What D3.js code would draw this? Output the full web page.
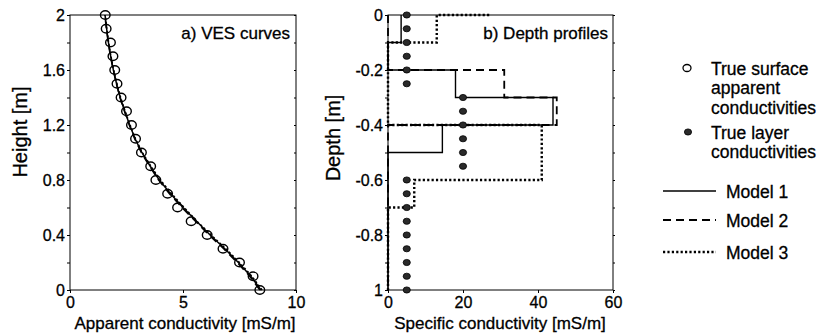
<!DOCTYPE html>
<html>
<head>
<meta charset="utf-8">
<script src="https://cdn.jsdelivr.net/npm/d3@7"></script>
<style>
  body { margin: 0; background: #fff; }
  svg { font-family: "Liberation Sans", Arial, sans-serif; }
  text { fill: #000; stroke: #000; stroke-width: 0.3px; }
</style>
</head>
<body>
<svg id="fig" width="833" height="333"></svg>
<script>
// ---- data: panel a (VES curves) ----
const vesHeights = [0, 0.1, 0.2, 0.3, 0.4, 0.5, 0.6, 0.7, 0.8, 0.9, 1.0, 1.1, 1.2, 1.3, 1.4, 1.5, 1.6, 1.7, 1.8, 1.9, 2.0];
const vesTrue   = [8.4, 8.1, 7.5, 6.77, 6.07, 5.36, 4.76, 4.32, 3.8, 3.57, 3.16, 2.9, 2.72, 2.5, 2.26, 2.08, 1.98, 1.9, 1.79, 1.6, 1.56];
const vesModel1 = [8.45, 8.0, 7.45, 6.85, 6.2, 5.6, 5.0, 4.45, 3.95, 3.55, 3.18, 2.88, 2.64, 2.42, 2.22, 2.06, 1.92, 1.8, 1.7, 1.62, 1.55];
const vesModel2 = [8.4, 7.95, 7.4, 6.8, 6.15, 5.55, 4.95, 4.4, 3.92, 3.52, 3.15, 2.86, 2.62, 2.41, 2.21, 2.05, 1.91, 1.79, 1.69, 1.61, 1.54];
const vesModel3 = [8.5, 8.05, 7.5, 6.9, 6.25, 5.62, 5.05, 4.5, 4.0, 3.58, 3.2, 2.9, 2.66, 2.44, 2.24, 2.08, 1.93, 1.81, 1.71, 1.63, 1.56];

// ---- data: panel b (depth profiles) ----
const layerDepths = [0, -0.05, -0.1, -0.15, -0.2, -0.25, -0.3, -0.35, -0.4, -0.45, -0.5, -0.55,
                     -0.6, -0.65, -0.7, -0.75, -0.8, -0.85, -0.9, -0.95, -1.0];
const layerTrue   = [5, 5, 5, 5, 5, 5, 20, 20, 20, 20, 20, 20, 5, 5, 5, 5, 5, 5, 5, 5, 5];

// step profiles: layer boundaries (top, bottom) and conductivity
const model1Tops = [0, -0.1, -0.2, -0.3, -0.4, -0.5];
const model1Bots = [-0.1, -0.2, -0.3, -0.4, -0.5, -1.0];
const model1Vals = [3.5, 0, 18, 44, 14.5, 0];

const model2Tops = [0, -0.2, -0.3, -0.4];
const model2Bots = [-0.2, -0.3, -0.4, -1.0];
const model2Vals = [0, 31, 45, 0];

const model3Start = 27;
const model3Tops = [0, -0.1, -0.4, -0.6, -0.7];
const model3Bots = [-0.1, -0.4, -0.6, -0.7, -1.0];
const model3Vals = [13, 0, 41, 7, 0];

// ---- tick labels ----
const aTicksX = [0, 5, 10];
const aTicksY = [0, 0.2, 0.4, 0.6, 0.8, 1.0, 1.2, 1.4, 1.6, 1.8, 2.0];
const aLabelsY = {"0": "0", "0.4": "0.4", "0.8": "0.8", "1.2": "1.2", "1.6": "1.6", "2": "2"};
const bTicksX = [0, 20, 40, 60];
const bTicksY = [0, -0.1, -0.2, -0.3, -0.4, -0.5, -0.6, -0.7, -0.8, -0.9, -1.0];
const bLabelsY = {"0": "0", "-0.2": "-0.2", "-0.4": "-0.4", "-0.6": "-0.6", "-0.8": "-0.8", "-1": "1"};

const svg = d3.select("#fig");
const plotTop = 15, plotBottom = 290;

const dashes = {solid: null, dashed: "8,5", dotted: "2.2,2.2"};

function frame(g, x0, x1) {
  g.append("rect")
    .attr("x", x0).attr("y", plotTop)
    .attr("width", x1 - x0).attr("height", plotBottom - plotTop)
    .attr("fill", "none").attr("stroke", "#000").attr("stroke-width", 1);
}

function styleAxis(g) {
  g.selectAll(".domain").remove();
  g.selectAll("text").attr("font-size", 16).attr("fill", "#000");
  g.selectAll("line").attr("stroke", "#000");
}

// ================= panel a =================
const ax = d3.scaleLinear().domain([0, 10]).range([70, 296]);
const ay = d3.scaleLinear().domain([0, 2]).range([plotBottom, plotTop]);
const ga = svg.append("g");
frame(ga, 70, 296);

ga.append("g").attr("transform", `translate(0,${plotBottom})`)
  .call(d3.axisBottom(ax).tickValues(aTicksX).tickSize(3).tickPadding(4).tickFormat(d3.format("d")))
  .call(styleAxis);
ga.append("g").attr("transform", "translate(70,0)")
  .call(d3.axisLeft(ay).tickValues(aTicksY).tickSize(3).tickPadding(2)
    .tickFormat(d => aLabelsY[String(+d.toFixed(1))] || ""))
  .call(styleAxis);
ga.append("g").attr("transform", "translate(296,0)")
  .call(d3.axisLeft(ay).tickValues(aTicksY).tickSize(2).tickFormat(""))
  .call(styleAxis);

const aLine = d3.line().x(d => ax(d[0])).y(d => ay(d[1]));
[[vesModel1, "solid"], [vesModel2, "dashed"], [vesModel3, "dotted"]].forEach(([vals, st]) => {
  ga.append("path")
    .attr("d", aLine(vals.map((v, i) => [v, vesHeights[i]])))
    .attr("fill", "none").attr("stroke", "#000").attr("stroke-width", 1.5)
    .attr("stroke-dasharray", dashes[st]);
});
ga.selectAll("ellipse.ves").data(vesTrue).enter().append("ellipse")
  .attr("cx", d => ax(d)).attr("cy", (d, i) => ay(vesHeights[i]))
  .attr("rx", 4.8).attr("ry", 4.2)
  .attr("fill", "none").attr("stroke", "#000").attr("stroke-width", 1.4);

ga.append("text").attr("x", 290).attr("y", 39).attr("text-anchor", "end")
  .attr("font-size", 17).text("a) VES curves");
ga.append("text").attr("x", 185).attr("y", 329).attr("text-anchor", "middle")
  .attr("font-size", 17).text("Apparent conductivity [mS/m]");
ga.append("text").attr("transform", "translate(27,132) rotate(-90)").attr("text-anchor", "middle")
  .attr("font-size", 20).text("Height [m]");

// ================= panel b =================
const bx = d3.scaleLinear().domain([0, 60]).range([388, 613]);
const by = d3.scaleLinear().domain([-1, 0]).range([plotBottom, plotTop]);
const gb = svg.append("g");
frame(gb, 388, 613);

gb.append("g").attr("transform", `translate(0,${plotBottom})`)
  .call(d3.axisBottom(bx).tickValues(bTicksX).tickSize(3).tickPadding(4).tickFormat(d3.format("d")))
  .call(styleAxis);
gb.append("g").attr("transform", "translate(388,0)")
  .call(d3.axisLeft(by).tickValues(bTicksY).tickSize(3).tickPadding(2)
    .tickFormat(d => bLabelsY[String(+d.toFixed(1))] || ""))
  .call(styleAxis);
gb.append("g").attr("transform", "translate(613,0)")
  .call(d3.axisRight(by).tickValues(bTicksY).tickSize(2).tickFormat(""))
  .call(styleAxis);

function stepPoints(tops, bots, vals, start) {
  const pts = [];
  if (start !== undefined) pts.push([start, tops[0]]);
  vals.forEach((v, i) => { pts.push([v, tops[i]]); pts.push([v, bots[i]]); });
  return pts;
}
const bLine = d3.line().x(d => bx(d[0])).y(d => by(d[1]));
[[stepPoints(model1Tops, model1Bots, model1Vals), "solid", 1.4],
 [stepPoints(model2Tops, model2Bots, model2Vals), "dashed", 1.8],
 [stepPoints(model3Tops, model3Bots, model3Vals, model3Start), "dotted", 2.4]].forEach(([pts, st, w]) => {
  gb.append("path").attr("d", bLine(pts))
    .attr("fill", "none").attr("stroke", "#000").attr("stroke-width", w)
    .attr("stroke-dasharray", dashes[st]);
});

gb.selectAll("ellipse.layer").data(layerTrue).enter().append("ellipse")
  .attr("cx", d => bx(d)).attr("cy", (d, i) => by(layerDepths[i]))
  .attr("rx", 3.6).attr("ry", 3.1)
  .attr("fill", "#2a2a2a").attr("stroke", "#000").attr("stroke-width", 0.8);

gb.append("text").attr("x", 608).attr("y", 39).attr("text-anchor", "end")
  .attr("font-size", 17).text("b) Depth profiles");
gb.append("text").attr("x", 500).attr("y", 329).attr("text-anchor", "middle")
  .attr("font-size", 17).text("Specific conductivity [mS/m]");
gb.append("text").attr("transform", "translate(340,138) rotate(-90)").attr("text-anchor", "middle")
  .attr("font-size", 20).text("Depth [m]");

// ================= legend =================
const lg = svg.append("g").attr("font-size", 17.5);
lg.append("ellipse").attr("cx", 687).attr("cy", 68).attr("rx", 4).attr("ry", 3.5)
  .attr("fill", "none").attr("stroke", "#000").attr("stroke-width", 1.3);
["True surface", "apparent", "conductivities"].forEach((t, i) =>
  lg.append("text").attr("x", 711).attr("y", 74.5 + i * 19.5).text(t));
lg.append("ellipse").attr("cx", 688).attr("cy", 132).attr("rx", 3.6).attr("ry", 3.1)
  .attr("fill", "#2a2a2a").attr("stroke", "#000").attr("stroke-width", 0.8);
["True layer", "conductivities"].forEach((t, i) =>
  lg.append("text").attr("x", 711).attr("y", 138.5 + i * 19.5).text(t));
const legendModels = [["Model 1", "solid", 1.4, 191], ["Model 2", "dashed", 1.8, 220], ["Model 3", "dotted", 2.4, 252]];
legendModels.forEach(([label, st, w, y]) => {
  lg.append("line").attr("x1", 663).attr("x2", 716).attr("y1", y).attr("y2", y)
    .attr("stroke", "#000").attr("stroke-width", w).attr("stroke-dasharray", dashes[st]);
  lg.append("text").attr("x", 726).attr("y", y + 6.5).text(label);
});
</script>
</body>
</html>
